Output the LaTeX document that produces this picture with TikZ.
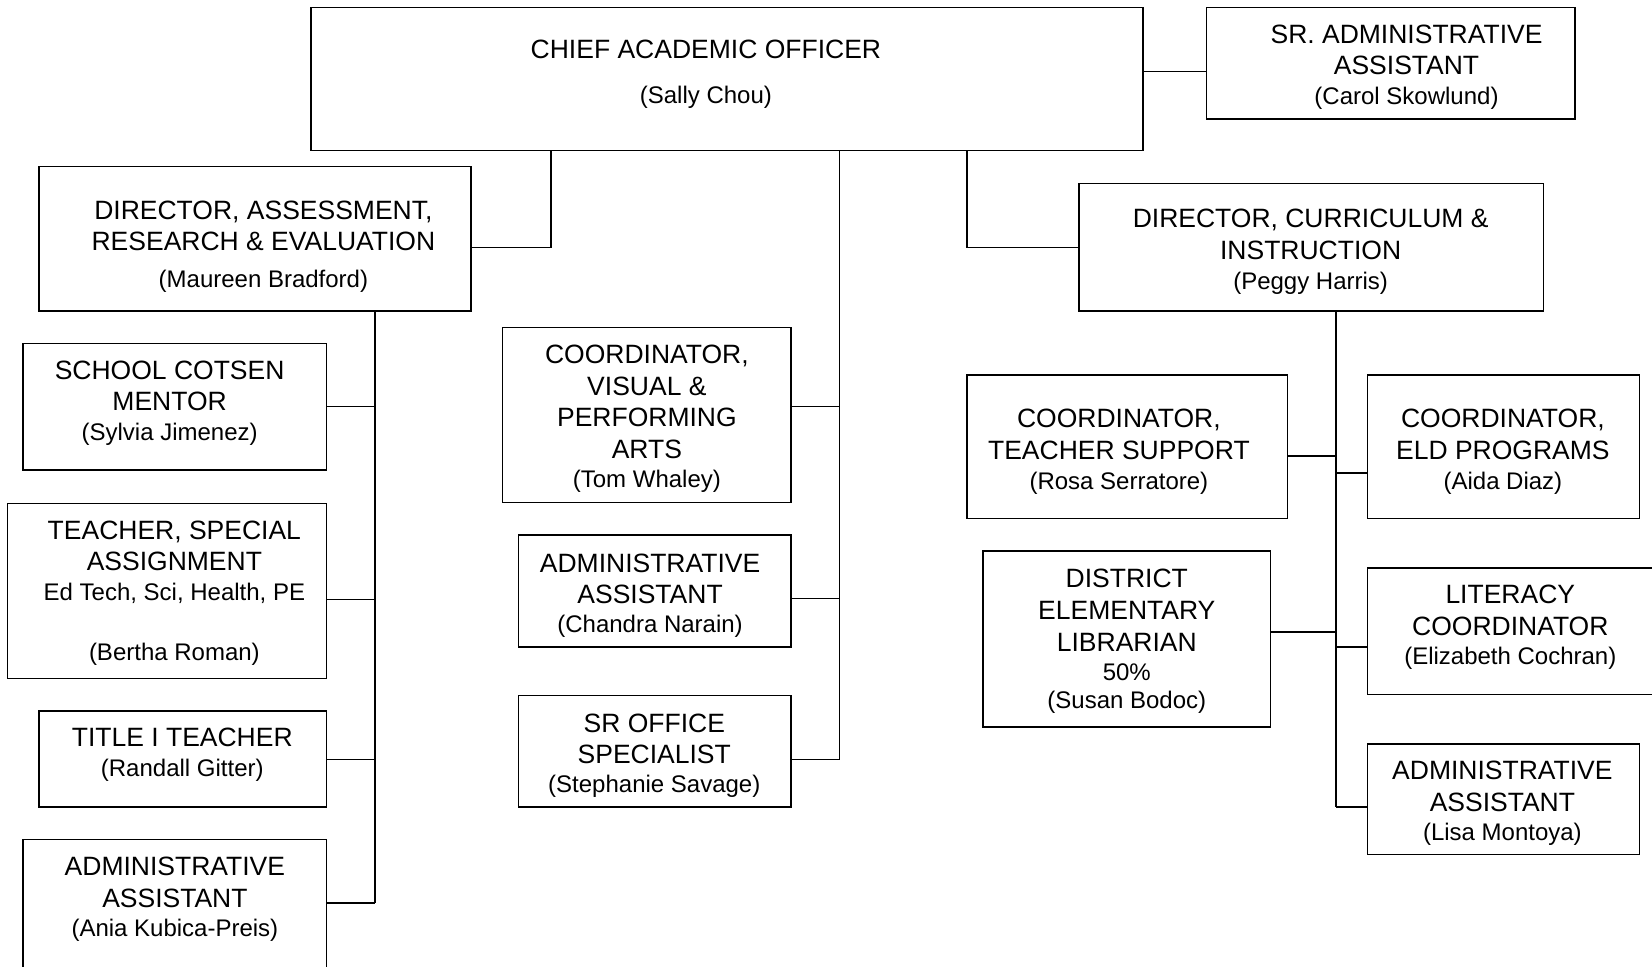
\documentclass[tikz,border=0pt]{standalone}
\usepackage{fontspec}
\setmainfont{Liberation Sans}
\newcommand\pn[1]{{\fontsize{12}{15.8}\selectfont #1}}
\newcommand\orgbox[5]{\node[box,minimum width={(#4-#2)*0.5268pt},minimum height={(#5-#3)*0.5268pt}] (#1) at (#2,#3) {};}
\begin{document}
\begin{tikzpicture}[x=0.5268pt,y=-0.5268pt,
  box/.style={draw,line width=0.75pt,inner sep=0pt,outer sep=0pt,anchor=north west},
  txt/.style={anchor=north,inner sep=0pt,align=center,font=\fontsize{13.25}{15.8}\selectfont},
  link/.style={line width=0.75pt}]
\useasboundingbox (0,0) rectangle (1568,917);
% boxes
\orgbox{cao}{295}{7}{1085}{143}
\orgbox{sra}{1145}{7}{1495}{113}
\orgbox{ara}{37}{158}{447}{295}
\orgbox{dci}{1024}{174}{1465}{295}
\orgbox{vpa}{477}{311}{751}{477}
\orgbox{caa}{492}{508}{751}{614}
\orgbox{sro}{492}{660}{751}{766}
\orgbox{sct}{22}{326}{310}{446}
\orgbox{tsa}{7}{478}{310}{644}
\orgbox{tit}{37}{675}{310}{766}
\orgbox{aka}{22}{797}{310}{935}
\orgbox{cts}{918}{356}{1222}{492}
\orgbox{eld}{1298}{356}{1556}{492}
\orgbox{lib}{933}{523}{1206}{690}
\orgbox{lit}{1298}{539}{1585}{659}
\orgbox{lma}{1298}{706}{1556}{811}
% texts
\node[txt] (caoT) at (670,38) {CHIEF ACADEMIC OFFICER\\[6.4pt]\pn{(Sally Chou)}};
\node[txt] (sraT) at (1335,23) {SR. ADMINISTRATIVE\\ASSISTANT\\[-1pt]\pn{(Carol Skowlund)}};
\node[txt] (araT) at (250,190) {DIRECTOR, ASSESSMENT,\\RESEARCH \& EVALUATION\\[2.4pt]\pn{(Maureen Bradford)}};
\node[txt] (dciT) at (1244,198) {DIRECTOR, CURRICULUM \&\\INSTRUCTION\\[-0.5pt]\pn{(Peggy Harris)}};
\node[txt] (vpaT) at (614,327) {COORDINATOR,\\VISUAL \&\\PERFORMING\\ARTS\\[-1pt]\pn{(Tom Whaley)}};
\node[txt] (caaT) at (617,525) {ADMINISTRATIVE\\ASSISTANT\\[-1.3pt]\pn{(Chandra Narain)}};
\node[txt] (sroT) at (621,677) {SR OFFICE\\SPECIALIST\\[-1.3pt]\pn{(Stephanie Savage)}};
\node[txt] (sctT) at (161,342) {SCHOOL COTSEN\\MENTOR\\[-1pt]\pn{(Sylvia Jimenez)}};
\node[txt] (tsaT) at (165.5,494) {TEACHER, SPECIAL\\ASSIGNMENT\\[-1pt]\pn{Ed Tech, Sci, Health, PE}\\[14.2pt]\pn{(Bertha Roman)}};
\node[txt] (titT) at (173,691) {TITLE I TEACHER\\[-1pt]\pn{(Randall Gitter)}};
\node[txt] (akaT) at (166,813) {ADMINISTRATIVE\\ASSISTANT\\[-1pt]\pn{(Ania Kubica-Preis)}};
\node[txt] (ctsT) at (1062,388) {COORDINATOR,\\TEACHER SUPPORT\\[-0.8pt]\pn{(Rosa Serratore)}};
\node[txt] (eldT) at (1426.5,388) {COORDINATOR,\\ELD PROGRAMS\\[-0.8pt]\pn{(Aida Diaz)}};
\node[txt] (libT) at (1069.5,540) {DISTRICT\\ELEMENTARY\\LIBRARIAN\\[-1pt]\pn{50\%}\\[-1.8pt]\pn{(Susan Bodoc)}};
\node[txt] (litT) at (1433.5,555) {LITERACY\\COORDINATOR\\[-1pt]\pn{(Elizabeth Cochran)}};
\node[txt] (lmaT) at (1426,722) {ADMINISTRATIVE\\ASSISTANT\\[-1pt]\pn{(Lisa Montoya)}};
% trunk ends
\coordinate (ct) at (797,721);
\coordinate (lt) at (356,857);
\coordinate (rt) at (1268,766);
% connectors
\draw[link] (cao.east |- 0,68) -- (sra.west |- 0,68);
\draw[link] (523,0 |- cao.south) |- (ara.east |- 0,235);
\draw[link] (918,0 |- cao.south) |- (dci.west |- 0,235);
\draw[link] (ct |- cao.south) -- (ct);
\draw[link] (vpa.east |- 0,386) -- (ct |- 0,386);
\draw[link] (caa.east |- 0,568) -- (ct |- 0,568);
\draw[link] (sro.east |- ct) -- (ct);
\draw[link] (lt |- ara.south) -- (lt);
\draw[link] (sct.east |- 0,386) -- (lt |- 0,386);
\draw[link] (tsa.east |- 0,569) -- (lt |- 0,569);
\draw[link] (tit.east |- 0,721) -- (lt |- 0,721);
\draw[link] (aka.east |- lt) -- (lt);
\draw[link] (rt |- dci.south) -- (rt);
\draw[link] (cts.east |- 0,433) -- (rt |- 0,433);
\draw[link] (eld.west |- 0,449) -- (rt |- 0,449);
\draw[link] (lib.east |- 0,600) -- (rt |- 0,600);
\draw[link] (lit.west |- 0,614) -- (rt |- 0,614);
\draw[link] (lma.west |- rt) -- (rt);
\end{tikzpicture}
\end{document}
